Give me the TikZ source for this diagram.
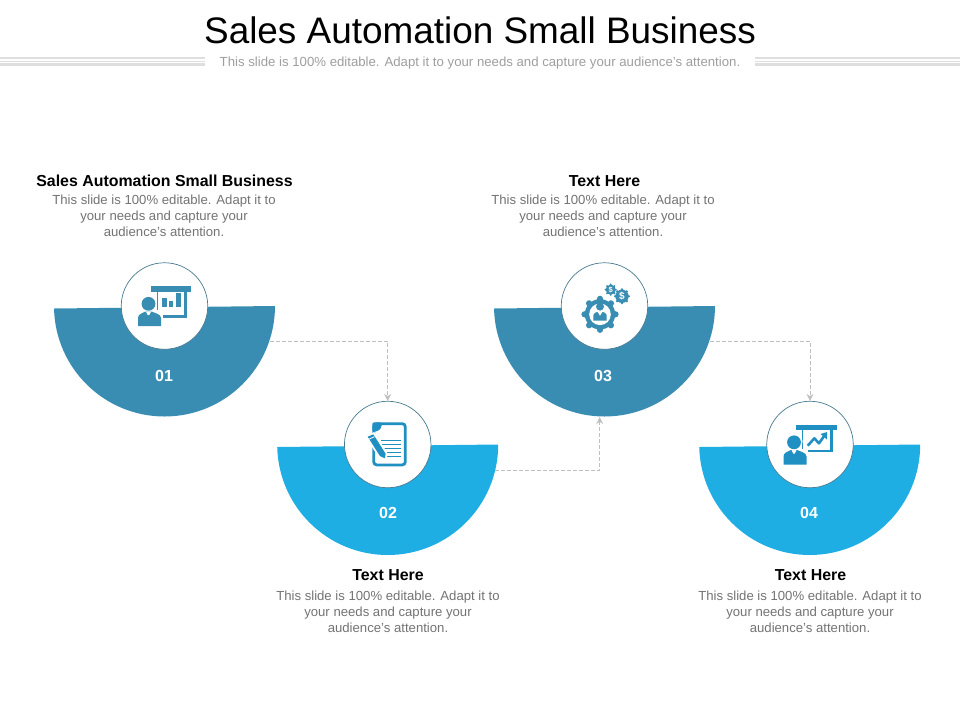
\documentclass[tikz,border=0pt]{standalone}
\usepackage{fontspec}
\setmainfont{Liberation Sans}
\usepackage{xcolor}
\usetikzlibrary{arrows.meta}
\definecolor{discdark}{HTML}{3A8DB2}
\definecolor{disclight}{HTML}{1FAEE3}
\definecolor{icondark}{HTML}{3A8DB2}
\definecolor{iconlight}{HTML}{2090C2}
\tikzstyle{iconcircle} = [draw=discdark!70!black!85, fill=white, circle, line width=0.7pt,
minimum size=86.5pt, inner sep=0pt]
\tikzstyle{numtext} = [text=white, font=\fontsize{16}{18}\selectfont\bfseries]
\tikzstyle{headtext} = [text=black, font=\fontsize{15.9}{18}\selectfont\bfseries]
\tikzstyle{bodytext} = [text=black!55, align=center, font=\fontsize{13.15}{16}\selectfont]
\tikzstyle{flow} = [draw=black!25, line width=0.9pt, dash pattern=on 3.5pt off 2.5pt, -{Stealth[length=7pt,width=7pt]}]
\tikzstyle{rule} = [draw=black!13]
\newcommand{\bodyblurb}{This slide is 100\% editable. Adapt it to\\your needs and capture your\\audience's attention.}
% board with a person in front, drawn round the centre of the circle
\newcommand{\presenter}[2]{%
    \fill[#1] (-14,-20) rectangle (26.5,-14.5);
    \fill[#1] (-8,-14.5) rectangle (22.5,#2);
    \fill[white] (-6.8,-14.5) rectangle (19.5,#2-2.5);
    \fill[white] (-16,-3) circle (8.5);
    \fill[white] (-28,4) rectangle (-2,21);
    \fill[#1] (-16,-2.2) circle (6.9);
    \fill[#1] (-26.5,20) -- (-26.5,12) .. controls (-26.5,8) and (-22,7) .. (-19,5.5)
        -- (-13,5.5) .. controls (-10,7) and (-3.5,8) .. (-3.5,12) -- (-3.5,20) -- cycle;
    \fill[white] (-18.5,5.5) -- (-13.5,5.5) -- (-15.2,9) -- (-16.8,9) -- cycle;
}
\newcommand{\gearwheel}[4]{%
    \foreach \a in {0,45,...,315}
        \fill[#1] (#2,#3) ++(\a:#4) circle (#4*0.2);
    \fill[#1] (#2,#3) circle (#4*0.98);
}
\begin{document}
\begin{tikzpicture}[x=1pt,y=-1pt]
    \useasboundingbox (0,0) rectangle (960,720);
    \node[text=black, font=\fontsize{36.9}{40}\selectfont] (title) at (480,30) {Sales Automation Small Business};
    \node[bodytext, text=black!38, font=\fontsize{13.2}{16}\selectfont] (subtitle) at (480,63) {This slide is 100\% editable. Adapt it to your needs and capture your audience's attention.};
    \foreach \y/\w in {58/1.4,61.3/1.2,64.5/2.2} {
        \draw[rule, line width=\w pt] (0,\y) -- (205,\y);
        \draw[rule, line width=\w pt] (755,\y) -- (960,\y);
    }
    % half discs with icon circles
    \foreach \n/\cx/\cy/\col in {1/164.5/306/discdark,2/387.7/444.5/disclight,3/604.5/306/discdark,4/809.7/444.5/disclight} {
        \fill[\col] (\cx+110.5,\cy) arc[start angle=0, end angle=178.7, radius=110.5] -- cycle;
    }
    \coordinate (out1) at (270,341);
    \coordinate (out2) at (495,470);
    \coordinate (out3) at (710,341);
    \coordinate (in3) at (599.7,417);
    \node[iconcircle] (icon1) at (164.5,306) {};
    \node[iconcircle] (icon2) at (387.7,444.5) {};
    \node[iconcircle] (icon3) at (604.5,306) {};
    \node[iconcircle] (icon4) at (810,444.5) {};
    \draw[flow] (out1) -| (icon2);
    \draw[flow] (out2) -| (in3);
    \draw[flow] (out3) -| (icon4);
    \node[numtext] (num1) at (164,376) {01};
    \node[numtext] (num2) at (388,513) {02};
    \node[numtext] (num3) at (603,376) {03};
    \node[numtext] (num4) at (809,513) {04};
    % texts
    \node[headtext] (head1) at (164.5,181) {Sales Automation Small Business};
    \node[bodytext] (body1) at (164,216) {\bodyblurb};
    \node[headtext] (head2) at (388,575) {Text Here};
    \node[bodytext] (body2) at (388,612) {\bodyblurb};
    \node[headtext] (head3) at (604.5,181) {Text Here};
    \node[bodytext] (body3) at (603,216) {\bodyblurb};
    \node[headtext] (head4) at (810.5,575) {Text Here};
    \node[bodytext] (body4) at (810,612) {\bodyblurb};
    % icon 1
    \begin{scope}[shift={(icon1.center)}]
        \presenter{icondark}{11.5}
        \fill[icondark] (-2.2,-7.7) rectangle (2.2,0.7);
        \fill[icondark] (4.8,-5) rectangle (8.8,0.7);
        \fill[icondark] (11.2,-12.7) rectangle (16.2,0.7);
    \end{scope}
    % icon 2
    \begin{scope}[shift={(icon2.center)}]
        \draw[iconlight, line width=2.8pt, rounded corners=3pt] (-14,-20.8) rectangle (17.6,20.4);
        \fill[iconlight, rounded corners=2pt] (-15.4,-22.2) -- (-6,-22.2) -- (-6,-17) -- (-10,-13) -- (-15.4,-13) -- cycle;
        \foreach \y in {-3.8,-0.5,3.8,7.8,11.8}
            \draw[iconlight, line width=1pt] (-7,\y) -- (13.3,\y);
        \fill[white] (-22.5,-8) -- (-13.5,-12.5) -- (0,9) -- (-1.5,16) -- (-9,13) -- cycle;
        \fill[iconlight] (-20,-7.8) -- (-14.4,-10.2) -- (-2.1,9.2) -- (-2.7,13.8) -- (-7.7,11.6) -- cycle;
        \draw[white, line width=0.8pt] (-19,-5.2) -- (-13.2,-7.8);
    \end{scope}
    % icon 3
    \begin{scope}[shift={(icon3.center)}]
        \gearwheel{icondark}{-4.5}{8.3}{15.5}
        \fill[white] (-4.5,8.3) circle (10.8);
        \fill[icondark] (-4.5,0.6) circle (4);
        \fill[icondark] (-11.2,14.6) -- (-11.2,9) .. controls (-11.2,7) and (-8,6) .. (-7,6)
            -- (-4.5,10) -- (-2,6) .. controls (-1,6) and (2.2,7) .. (2.2,9) -- (2.2,14.6) -- cycle;
        \gearwheel{icondark}{6.2}{-16.3}{5.2}
        \gearwheel{icondark}{17.5}{-9.7}{6.8}
        \node[text=white, inner sep=0pt, font=\fontsize{7.5}{8}\selectfont\bfseries] (dollar1) at (6.2,-16.3) {\$};
        \node[text=white, inner sep=0pt, font=\fontsize{10}{10}\selectfont\bfseries] (dollar2) at (17.5,-9.7) {\$};
    \end{scope}
    % icon 4
    \begin{scope}[shift={(icon4.center)}]
        \presenter{iconlight}{7.8}
        \draw[iconlight, line width=2.6pt, line join=round] (-2.3,1.2) -- (4.3,-6.2) -- (9,-1.2) -- (14.5,-9);
        \fill[iconlight] (10.5,-10.5) -- (17.2,-12.5) -- (17,-5) -- cycle;
    \end{scope}
\end{tikzpicture}
\end{document}
